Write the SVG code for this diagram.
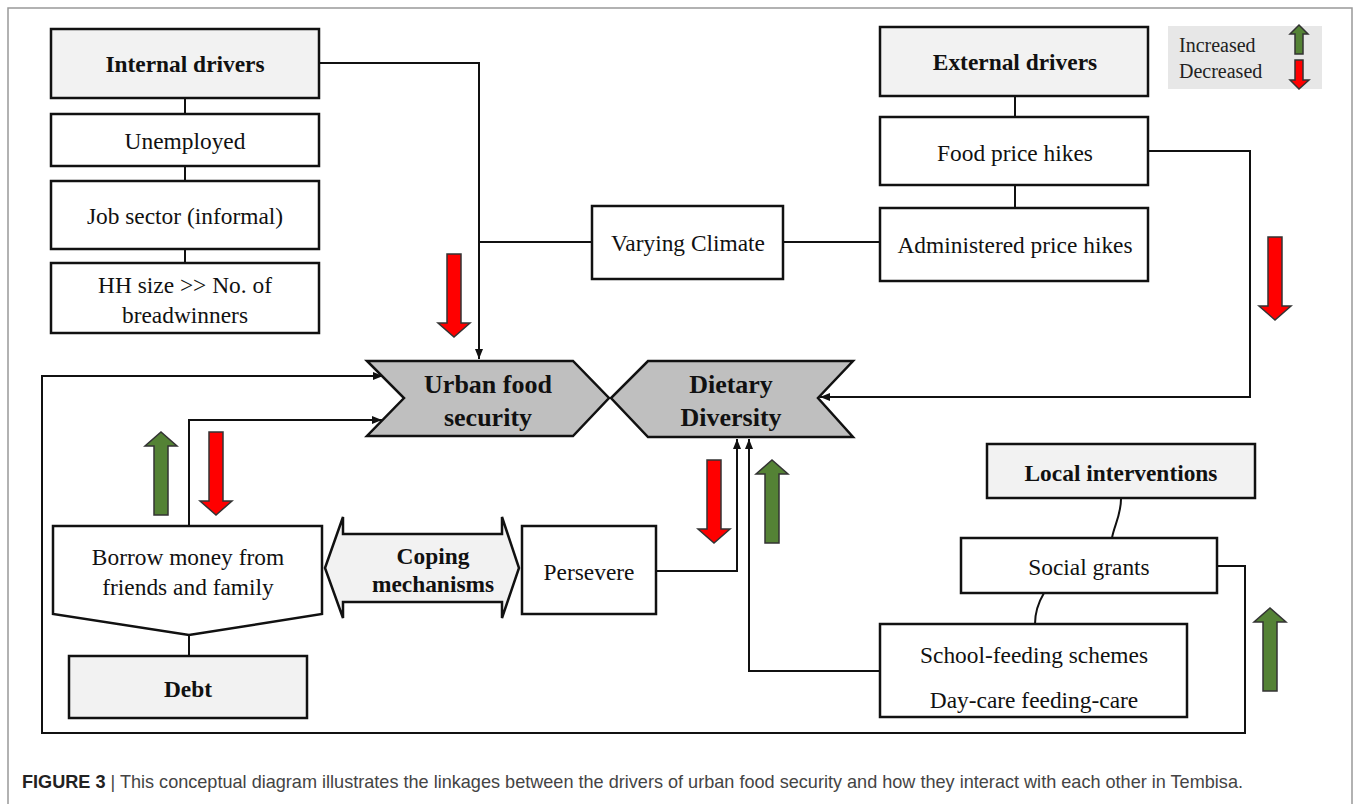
<svg xmlns="http://www.w3.org/2000/svg" width="1358" height="804" viewBox="0 0 1358 804">
<style>
.box{fill:#fff;stroke:#111;stroke-width:2.5}
.hdr{fill:#f2f2f2;stroke:#111;stroke-width:2.5}
.chev{fill:#bfbfbf;stroke:#111;stroke-width:2.5}
.t{font-family:"Liberation Serif","DejaVu Serif",serif;font-size:23.4px;fill:#111;text-anchor:middle;dominant-baseline:central}
.b{font-weight:bold}
.big{font-size:26px}
.lg{font-family:"Liberation Serif","DejaVu Serif",serif;font-size:20px;fill:#222}
.con{fill:none;stroke:#111;stroke-width:2}
.red{fill:#ff0000;stroke:#333;stroke-width:1.5}
.grn{fill:#548235;stroke:#333;stroke-width:1.5}
.cap{font-family:"Liberation Sans",Arial,sans-serif;font-size:18.1px;fill:#444}
</style>
<defs>
<marker id="ah" markerWidth="10" markerHeight="8" refX="10" refY="4" orient="auto" markerUnits="userSpaceOnUse">
<path d="M0,0 L10,4 L0,8 Z" fill="#111"/>
</marker>
<path id="dn" d="M-7,0 H7 V69 H16 L0,83 L-16,69 H-7 Z"/>
<path id="up" d="M-7,83 H7 V14 H16 L0,0 L-16,14 H-7 Z"/>
</defs>
<rect x="8" y="8" width="1344" height="810" fill="none" stroke="#999" stroke-width="1.5"/>

<g id="connectors">
<path class="con" d="M319,63 H479 V359" marker-end="url(#ah)"/>
<path class="con" d="M479,242 H592"/>
<path class="con" d="M783,242 H880"/>
<path class="con" d="M185,98 V114 M185,166 V181 M185,249 V263"/>
<path class="con" d="M1015,96 V117 M1015,185 V208"/>
<path class="con" d="M1148,151 H1250 V397 H820" marker-end="url(#ah)"/>
<path class="con" d="M1217,566 H1245 V733 H42 V376 H383" marker-end="url(#ah)"/>
<path class="con" d="M189,526 V420 H382" marker-end="url(#ah)"/>
<path class="con" d="M657,571 H737 V439" marker-end="url(#ah)"/>
<path class="con" d="M880,671 H749 V439" marker-end="url(#ah)"/>
<path class="con" d="M1121,499 C1121,515 1114,526 1112,538"/>
<path class="con" d="M1044,593 C1038,603 1035,612 1035,624"/>
<path class="con" d="M189,635 V656"/>
</g>

<g id="internal-drivers"><rect class="hdr" x="51" y="29" width="268" height="69"/><text class="t b" x="185" y="64">Internal drivers</text></g>
<g id="unemployed"><rect class="box" x="51" y="114" width="268" height="52"/><text class="t" x="185" y="141">Unemployed</text></g>
<g id="job-sector"><rect class="box" x="51" y="181" width="268" height="68"/><text class="t" x="185" y="216">Job sector (informal)</text></g>
<g id="hh-size"><rect class="box" x="51" y="263" width="268" height="70"/><text class="t" x="185" y="285">HH size &gt;&gt; No. of</text><text class="t" x="185" y="315">breadwinners</text></g>

<g id="varying-climate"><rect class="box" x="592" y="206" width="191" height="73"/><text class="t" x="688" y="243">Varying Climate</text></g>

<g id="external-drivers"><rect class="hdr" x="880" y="27" width="268" height="69"/><text class="t b" x="1015" y="62">External drivers</text></g>
<g id="food-price"><rect class="box" x="880" y="117" width="268" height="68"/><text class="t" x="1015" y="153">Food price hikes</text></g>
<g id="admin-price"><rect class="box" x="880" y="208" width="268" height="73"/><text class="t" x="1015" y="245">Administered price hikes</text></g>

<g id="legend">
<rect x="1168" y="26" width="154" height="63" fill="#e7e7e7"/>
<text class="lg" x="1179" y="52">Increased</text>
<text class="lg" x="1179" y="78">Decreased</text>
<path class="grn" d="M1295,54 H1303 V34 H1308 L1299,25 L1290,34 H1295 Z"/>
<path class="red" d="M1295,60 H1303 V80 H1309 L1299,89 L1290,80 H1295 Z"/>
</g>

<g id="urban-food-security"><path class="chev" d="M367,361 H573 L609,398 L573,436 H367 L404,398 Z"/><text class="t b big" x="488" y="384">Urban food</text><text class="t b big" x="488" y="417">security</text></g>
<g id="dietary-diversity"><path class="chev" d="M648,361 H853 L818,398 L853,437 H648 L611,398 Z"/><text class="t b big" x="731" y="384">Dietary</text><text class="t b big" x="731" y="417">Diversity</text></g>

<g id="local-interventions"><rect class="hdr" x="987" y="444" width="268" height="54"/><text class="t b" x="1121" y="473">Local interventions</text></g>
<g id="social-grants"><rect class="box" x="961" y="538" width="256" height="55"/><text class="t" x="1089" y="567">Social grants</text></g>
<g id="school-feeding"><rect class="box" x="880" y="624" width="307" height="93"/><text class="t" x="1034" y="655">School-feeding schemes</text><text class="t" x="1034" y="700">Day-care feeding-care</text></g>

<g id="persevere"><rect class="box" x="522" y="526" width="134" height="88"/><text class="t" x="589" y="572">Persevere</text></g>
<g id="coping"><path class="hdr" d="M325,568 L343,517 V534 H502 V517 L519,568 L502,618 V602 H343 V618 Z"/><text class="t b" x="433" y="556">Coping</text><text class="t b" x="433" y="584">mechanisms</text></g>
<g id="borrow"><path class="box" d="M53,526 H322 V614 L189,635 L53,614 Z"/><text class="t" x="188" y="557">Borrow money from</text><text class="t" x="188" y="587">friends and family</text></g>
<g id="debt"><rect class="hdr" x="69" y="656" width="238" height="62"/><text class="t b" x="188" y="689">Debt</text></g>

<g id="indicators">
<use href="#dn" class="red" transform="translate(454,254)"/>
<use href="#dn" class="red" transform="translate(1275,237)"/>
<use href="#up" class="grn" transform="translate(161,432)"/>
<use href="#dn" class="red" transform="translate(216,432)"/>
<use href="#dn" class="red" transform="translate(714,460)"/>
<use href="#up" class="grn" transform="translate(772,460)"/>
<use href="#up" class="grn" transform="translate(1270,608)"/>
</g>

<text class="cap" x="22" y="788"><tspan font-weight="bold" fill="#222">FIGURE 3</tspan> | This conceptual diagram illustrates the linkages between the drivers of urban food security and how they interact with each other in Tembisa.</text>
</svg>
